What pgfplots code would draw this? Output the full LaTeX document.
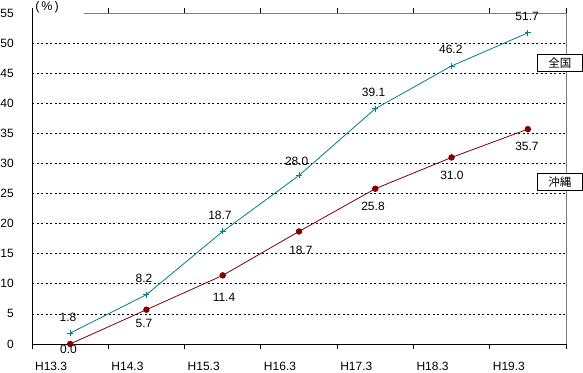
\documentclass[border=0pt]{standalone}
\usepackage{fontspec}
\setmainfont{Liberation Sans}
\newfontfamily\cjk{Noto Sans CJK JP}
\usepackage{pgfplots}
\pgfplotsset{compat=1.18}
\definecolor{zenkoku}{RGB}{0,128,128}
\definecolor{okinawa}{RGB}{128,0,0}
\definecolor{frame}{RGB}{128,128,128}
\begin{document}
\fontsize{12bp}{14bp}\selectfont
\begin{tikzpicture}
\begin{axis}[
  scale only axis,
  width=534bp, height=331bp,
  xmin=0, xmax=7, ymin=0, ymax=55,
  clip=false,
  axis line style={draw=none},
  /pgf/number format/assume math mode=true,
  font=\fontsize{12bp}{14bp}\selectfont,
  ytick={0,5,...,55},
  yticklabel style={anchor=east, xshift=-14bp},
  major tick length=0pt,
  extra y ticks={5,10,...,50},
  extra y tick labels={},
  extra y tick style={ymajorgrids=true, major grid style={black, line width=0.8bp, dash pattern=on 2bp off 2.5bp}},
  xtick={0.5,1.5,...,6.5},
  xticklabels={H13.3,H14.3,H15.3,H16.3,H17.3,H18.3,H19.3},
  xticklabel style={anchor=center, xshift=-19bp, yshift=-22bp},
  minor xtick={0,1,...,7},
  minor tick length=5bp,
  tick align=outside,
  minor tick style={black, line width=0.8bp},
]
% frame
\draw[frame, line width=0.8bp] (axis cs:0.68,55) -- (axis cs:7,55) -- (axis cs:7,0);
\draw[black, line width=0.9bp] (axis cs:0,55.3) -- (axis cs:0,0) -- (axis cs:7,0);

\addplot[zenkoku, line width=0.8bp, mark=+, mark size=3bp, mark options={line width=0.8bp}]
  coordinates {(0.5,1.8) (1.5,8.2) (2.5,18.7) (3.5,28.0) (4.5,39.1) (5.5,46.2) (6.5,51.7)};
\addplot[okinawa, line width=0.8bp, mark=*, mark size=2.8bp, mark options={fill=okinawa, draw=okinawa}]
  coordinates {(0.5,0.0) (1.5,5.7) (2.5,11.4) (3.5,18.7) (4.5,25.8) (5.5,31.0) (6.5,35.7)};

% data labels (zenkoku)
\node at (axis cs:0.472,4.49) {1.8};
\node at (axis cs:1.468,10.97) {8.2};
\node at (axis cs:2.464,21.44) {18.7};
\node at (axis cs:3.47,30.4) {28.0};
\node at (axis cs:4.478,41.87) {39.1};
\node at (axis cs:5.49,48.9) {46.2};
\node at (axis cs:6.49,54.4) {51.7};
% data labels (okinawa)
\node at (axis cs:0.478,-0.83) {0.0};
\node at (axis cs:1.468,3.49) {5.7};
\node at (axis cs:2.517,7.81) {11.4};
\node at (axis cs:3.526,15.62) {18.7};
\node at (axis cs:4.47,22.93) {25.8};
\node at (axis cs:5.505,28.08) {31.0};
\node at (axis cs:6.488,32.9) {35.7};

% series name boxes
\node[draw=black, fill=white, line width=0.8bp, minimum width=45bp, minimum height=17bp, inner sep=0pt, font=\cjk\fontsize{11.5bp}{13bp}\selectfont] at (axis cs:6.921,46.69) {全国};
\node[draw=black, fill=white, line width=0.8bp, minimum width=45bp, minimum height=17bp, inner sep=0pt, font=\cjk\fontsize{11.5bp}{13bp}\selectfont] at (axis cs:6.921,26.92) {沖縄};

% unit
\node[font=\fontsize{12.5bp}{14bp}\selectfont] at (axis cs:0.197,55.9) {(\hspace{2bp}\%\hspace{2bp})};
\end{axis}
\pgfresetboundingbox
\useasboundingbox ([xshift=-32bp,yshift=-29bp]current axis.south west) rectangle ([xshift=17bp,yshift=13bp]current axis.north east);
\end{tikzpicture}
\end{document}
